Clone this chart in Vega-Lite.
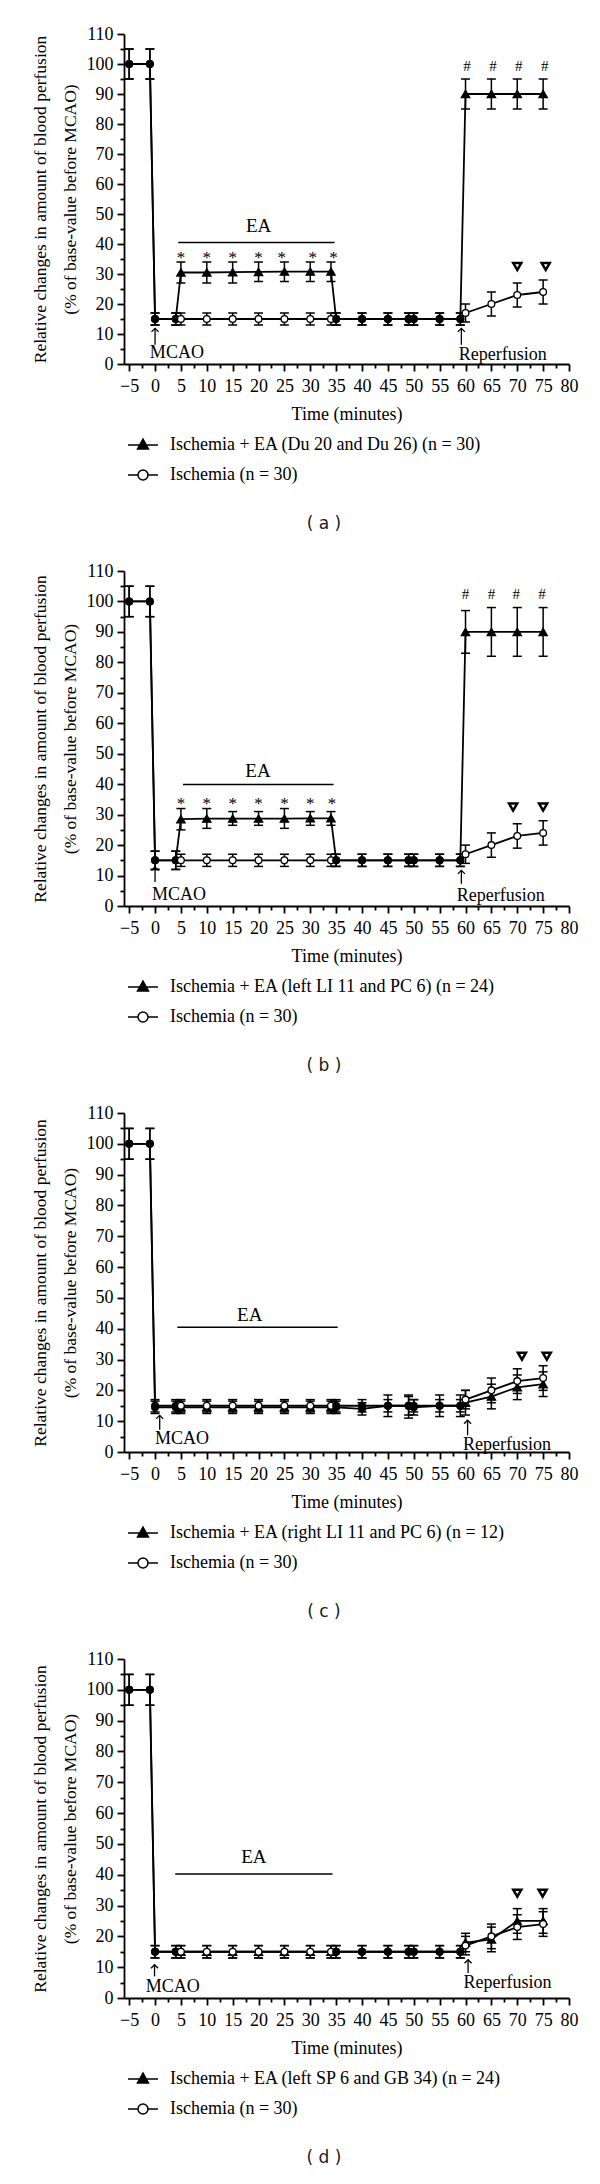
{
"$schema": "https://vega.github.io/schema/vega-lite/v6.json",
"background": "white",
"padding": {"left": 31, "top": 25, "right": 5, "bottom": 5},
"spacing": 30,
"resolve": {"scale": {"shape": "independent"}, "legend": {"shape": "independent"}},
"datasets": {
"pts": [
{"p":"a","s":"E","g":"base","t":-5,"v":100,"lo":95,"hi":105},
{"p":"a","s":"E","g":"base","t":-1,"v":100,"lo":95,"hi":105},
{"p":"a","s":"E","g":"base","t":0,"v":15,"lo":13,"hi":17},
{"p":"a","s":"E","g":"base","t":4,"v":15,"lo":13,"hi":17},
{"p":"a","s":"E","g":"EA","t":5,"v":30.5,"lo":27,"hi":34},
{"p":"a","s":"E","g":"EA","t":10,"v":30.5,"lo":27,"hi":34},
{"p":"a","s":"E","g":"EA","t":15,"v":30.6,"lo":27,"hi":34},
{"p":"a","s":"E","g":"EA","t":20,"v":30.7,"lo":27.5,"hi":34},
{"p":"a","s":"E","g":"EA","t":25,"v":30.8,"lo":27.5,"hi":34},
{"p":"a","s":"E","g":"EA","t":30,"v":30.8,"lo":27.5,"hi":34},
{"p":"a","s":"E","g":"EA","t":34,"v":30.8,"lo":27.5,"hi":34},
{"p":"a","s":"E","g":"base","t":35,"v":15,"lo":13,"hi":17},
{"p":"a","s":"E","g":"base","t":40,"v":15,"lo":13,"hi":17},
{"p":"a","s":"E","g":"base","t":45,"v":15,"lo":13,"hi":17},
{"p":"a","s":"E","g":"base","t":49,"v":15,"lo":13,"hi":17},
{"p":"a","s":"E","g":"base","t":50,"v":15,"lo":13,"hi":17},
{"p":"a","s":"E","g":"base","t":55,"v":15,"lo":13,"hi":17},
{"p":"a","s":"E","g":"base","t":59,"v":15,"lo":13,"hi":17},
{"p":"a","s":"E","g":"EA","t":60,"v":90,"lo":85,"hi":95},
{"p":"a","s":"E","g":"EA","t":65,"v":90,"lo":85,"hi":95},
{"p":"a","s":"E","g":"EA","t":70,"v":90,"lo":85,"hi":95},
{"p":"a","s":"E","g":"EA","t":75,"v":90,"lo":85,"hi":95},
{"p":"a","s":"I","g":"base","t":-5,"v":100,"lo":95,"hi":105},
{"p":"a","s":"I","g":"base","t":-1,"v":100,"lo":95,"hi":105},
{"p":"a","s":"I","g":"base","t":0,"v":15,"lo":13,"hi":17},
{"p":"a","s":"I","g":"base","t":4,"v":15,"lo":13,"hi":17},
{"p":"a","s":"I","g":"Isch","t":5,"v":15,"lo":13,"hi":17},
{"p":"a","s":"I","g":"Isch","t":10,"v":15,"lo":13,"hi":17},
{"p":"a","s":"I","g":"Isch","t":15,"v":15,"lo":13,"hi":17},
{"p":"a","s":"I","g":"Isch","t":20,"v":15,"lo":13,"hi":17},
{"p":"a","s":"I","g":"Isch","t":25,"v":15,"lo":13,"hi":17},
{"p":"a","s":"I","g":"Isch","t":30,"v":15,"lo":13,"hi":17},
{"p":"a","s":"I","g":"Isch","t":34,"v":15,"lo":13,"hi":17},
{"p":"a","s":"I","g":"base","t":35,"v":15,"lo":13,"hi":17},
{"p":"a","s":"I","g":"base","t":40,"v":15,"lo":13,"hi":17},
{"p":"a","s":"I","g":"base","t":45,"v":15,"lo":13,"hi":17},
{"p":"a","s":"I","g":"base","t":49,"v":15,"lo":13,"hi":17},
{"p":"a","s":"I","g":"base","t":50,"v":15,"lo":13,"hi":17},
{"p":"a","s":"I","g":"base","t":55,"v":15,"lo":13,"hi":17},
{"p":"a","s":"I","g":"base","t":59,"v":15,"lo":13,"hi":17},
{"p":"a","s":"I","g":"Isch","t":60,"v":17,"lo":14,"hi":20},
{"p":"a","s":"I","g":"Isch","t":65,"v":20,"lo":16,"hi":24},
{"p":"a","s":"I","g":"Isch","t":70,"v":23,"lo":19,"hi":27},
{"p":"a","s":"I","g":"Isch","t":75,"v":24,"lo":20,"hi":28},

{"p":"b","s":"E","g":"base","t":-5,"v":100,"lo":95,"hi":105},
{"p":"b","s":"E","g":"base","t":-1,"v":100,"lo":95,"hi":105},
{"p":"b","s":"E","g":"base","t":0,"v":15,"lo":12,"hi":18},
{"p":"b","s":"E","g":"base","t":4,"v":15,"lo":12,"hi":18},
{"p":"b","s":"E","g":"EA","t":5,"v":28.5,"lo":25,"hi":32},
{"p":"b","s":"E","g":"EA","t":10,"v":28.7,"lo":25.5,"hi":32},
{"p":"b","s":"E","g":"EA","t":15,"v":28.7,"lo":26.5,"hi":31},
{"p":"b","s":"E","g":"EA","t":20,"v":28.7,"lo":26.5,"hi":31},
{"p":"b","s":"E","g":"EA","t":25,"v":28.7,"lo":25.5,"hi":32},
{"p":"b","s":"E","g":"EA","t":30,"v":28.8,"lo":26.5,"hi":31},
{"p":"b","s":"E","g":"EA","t":34,"v":28.8,"lo":26.5,"hi":31},
{"p":"b","s":"E","g":"base","t":35,"v":15,"lo":13,"hi":17},
{"p":"b","s":"E","g":"base","t":40,"v":15,"lo":13,"hi":17},
{"p":"b","s":"E","g":"base","t":45,"v":15,"lo":13,"hi":17},
{"p":"b","s":"E","g":"base","t":49,"v":15,"lo":13,"hi":17},
{"p":"b","s":"E","g":"base","t":50,"v":15,"lo":13,"hi":17},
{"p":"b","s":"E","g":"base","t":55,"v":15,"lo":13,"hi":17},
{"p":"b","s":"E","g":"base","t":59,"v":15,"lo":13,"hi":17},
{"p":"b","s":"E","g":"EA","t":60,"v":90,"lo":83,"hi":97},
{"p":"b","s":"E","g":"EA","t":65,"v":90,"lo":82,"hi":98},
{"p":"b","s":"E","g":"EA","t":70,"v":90,"lo":82,"hi":98},
{"p":"b","s":"E","g":"EA","t":75,"v":90,"lo":82,"hi":98},
{"p":"b","s":"I","g":"base","t":-5,"v":100,"lo":95,"hi":105},
{"p":"b","s":"I","g":"base","t":-1,"v":100,"lo":95,"hi":105},
{"p":"b","s":"I","g":"base","t":0,"v":15,"lo":12,"hi":18},
{"p":"b","s":"I","g":"base","t":4,"v":15,"lo":12,"hi":18},
{"p":"b","s":"I","g":"Isch","t":5,"v":15,"lo":13,"hi":17},
{"p":"b","s":"I","g":"Isch","t":10,"v":15,"lo":13,"hi":17},
{"p":"b","s":"I","g":"Isch","t":15,"v":15,"lo":13,"hi":17},
{"p":"b","s":"I","g":"Isch","t":20,"v":15,"lo":13,"hi":17},
{"p":"b","s":"I","g":"Isch","t":25,"v":15,"lo":13,"hi":17},
{"p":"b","s":"I","g":"Isch","t":30,"v":15,"lo":13,"hi":17},
{"p":"b","s":"I","g":"Isch","t":34,"v":15,"lo":13,"hi":17},
{"p":"b","s":"I","g":"base","t":35,"v":15,"lo":13,"hi":17},
{"p":"b","s":"I","g":"base","t":40,"v":15,"lo":13,"hi":17},
{"p":"b","s":"I","g":"base","t":45,"v":15,"lo":13,"hi":17},
{"p":"b","s":"I","g":"base","t":49,"v":15,"lo":13,"hi":17},
{"p":"b","s":"I","g":"base","t":50,"v":15,"lo":13,"hi":17},
{"p":"b","s":"I","g":"base","t":55,"v":15,"lo":13,"hi":17},
{"p":"b","s":"I","g":"base","t":59,"v":15,"lo":13,"hi":17},
{"p":"b","s":"I","g":"Isch","t":60,"v":17,"lo":14,"hi":20},
{"p":"b","s":"I","g":"Isch","t":65,"v":20,"lo":16,"hi":24},
{"p":"b","s":"I","g":"Isch","t":70,"v":23,"lo":19,"hi":27},
{"p":"b","s":"I","g":"Isch","t":75,"v":24,"lo":20,"hi":28},

{"p":"c","s":"E","g":"base","t":-5,"v":100,"lo":95,"hi":105},
{"p":"c","s":"E","g":"base","t":-1,"v":100,"lo":95,"hi":105},
{"p":"c","s":"E","g":"base","t":0,"v":14.5,"lo":12.5,"hi":16.5},
{"p":"c","s":"E","g":"base","t":4,"v":14.5,"lo":12.5,"hi":16.5},
{"p":"c","s":"E","g":"EA","t":5,"v":14.5,"lo":12.5,"hi":16.5},
{"p":"c","s":"E","g":"EA","t":10,"v":14.5,"lo":12.5,"hi":16.5},
{"p":"c","s":"E","g":"EA","t":15,"v":14.5,"lo":12.5,"hi":16.5},
{"p":"c","s":"E","g":"EA","t":20,"v":14.5,"lo":12.5,"hi":16.5},
{"p":"c","s":"E","g":"EA","t":25,"v":14.5,"lo":12.5,"hi":16.5},
{"p":"c","s":"E","g":"EA","t":30,"v":14.5,"lo":12.5,"hi":16.5},
{"p":"c","s":"E","g":"EA","t":34,"v":14.5,"lo":12.5,"hi":16.5},
{"p":"c","s":"E","g":"base","t":35,"v":14.5,"lo":12.5,"hi":16.5},
{"p":"c","s":"E","g":"base","t":40,"v":14,"lo":12,"hi":16},
{"p":"c","s":"E","g":"base","t":45,"v":15,"lo":11.5,"hi":18.5},
{"p":"c","s":"E","g":"base","t":49,"v":15,"lo":11,"hi":18.5},
{"p":"c","s":"E","g":"base","t":50,"v":14.5,"lo":12,"hi":17},
{"p":"c","s":"E","g":"base","t":55,"v":15,"lo":11.5,"hi":18.5},
{"p":"c","s":"E","g":"base","t":59,"v":15,"lo":11.5,"hi":18.5},
{"p":"c","s":"E","g":"EA","t":60,"v":16,"lo":12,"hi":20},
{"p":"c","s":"E","g":"EA","t":65,"v":18,"lo":14,"hi":22},
{"p":"c","s":"E","g":"EA","t":70,"v":21,"lo":17,"hi":25},
{"p":"c","s":"E","g":"EA","t":75,"v":22,"lo":18,"hi":26},
{"p":"c","s":"I","g":"base","t":-5,"v":100,"lo":95,"hi":105},
{"p":"c","s":"I","g":"base","t":-1,"v":100,"lo":95,"hi":105},
{"p":"c","s":"I","g":"base","t":0,"v":15,"lo":13,"hi":17},
{"p":"c","s":"I","g":"base","t":4,"v":15,"lo":13,"hi":17},
{"p":"c","s":"I","g":"Isch","t":5,"v":15,"lo":13,"hi":17},
{"p":"c","s":"I","g":"Isch","t":10,"v":15,"lo":13,"hi":17},
{"p":"c","s":"I","g":"Isch","t":15,"v":15,"lo":13,"hi":17},
{"p":"c","s":"I","g":"Isch","t":20,"v":15,"lo":13,"hi":17},
{"p":"c","s":"I","g":"Isch","t":25,"v":15,"lo":13,"hi":17},
{"p":"c","s":"I","g":"Isch","t":30,"v":15,"lo":13,"hi":17},
{"p":"c","s":"I","g":"Isch","t":34,"v":15,"lo":13,"hi":17},
{"p":"c","s":"I","g":"base","t":35,"v":15,"lo":13,"hi":17},
{"p":"c","s":"I","g":"base","t":40,"v":15,"lo":13,"hi":17},
{"p":"c","s":"I","g":"base","t":45,"v":15,"lo":13,"hi":17},
{"p":"c","s":"I","g":"base","t":49,"v":15,"lo":12,"hi":18},
{"p":"c","s":"I","g":"base","t":50,"v":15,"lo":13,"hi":17},
{"p":"c","s":"I","g":"base","t":55,"v":15,"lo":13,"hi":17},
{"p":"c","s":"I","g":"base","t":59,"v":15,"lo":13,"hi":17},
{"p":"c","s":"I","g":"Isch","t":60,"v":17,"lo":14,"hi":20},
{"p":"c","s":"I","g":"Isch","t":65,"v":20,"lo":16,"hi":24},
{"p":"c","s":"I","g":"Isch","t":70,"v":23,"lo":19,"hi":27},
{"p":"c","s":"I","g":"Isch","t":75,"v":24,"lo":20,"hi":28},

{"p":"d","s":"E","g":"base","t":-5,"v":100,"lo":95,"hi":105},
{"p":"d","s":"E","g":"base","t":-1,"v":100,"lo":95,"hi":105},
{"p":"d","s":"E","g":"base","t":0,"v":15,"lo":13,"hi":17},
{"p":"d","s":"E","g":"base","t":4,"v":15,"lo":13,"hi":17},
{"p":"d","s":"E","g":"EA","t":5,"v":15,"lo":13,"hi":17},
{"p":"d","s":"E","g":"EA","t":10,"v":15,"lo":13,"hi":17},
{"p":"d","s":"E","g":"EA","t":15,"v":15,"lo":13,"hi":17},
{"p":"d","s":"E","g":"EA","t":20,"v":15,"lo":13,"hi":17},
{"p":"d","s":"E","g":"EA","t":25,"v":15,"lo":13,"hi":17},
{"p":"d","s":"E","g":"EA","t":30,"v":15,"lo":13,"hi":17},
{"p":"d","s":"E","g":"EA","t":34,"v":15,"lo":13,"hi":17},
{"p":"d","s":"E","g":"base","t":35,"v":15,"lo":13,"hi":17},
{"p":"d","s":"E","g":"base","t":40,"v":15,"lo":13,"hi":17},
{"p":"d","s":"E","g":"base","t":45,"v":15,"lo":13,"hi":17},
{"p":"d","s":"E","g":"base","t":49,"v":15,"lo":13,"hi":17},
{"p":"d","s":"E","g":"base","t":50,"v":15,"lo":13,"hi":17},
{"p":"d","s":"E","g":"base","t":55,"v":15,"lo":13,"hi":17},
{"p":"d","s":"E","g":"base","t":59,"v":15,"lo":13,"hi":17},
{"p":"d","s":"E","g":"EA","t":60,"v":18,"lo":15,"hi":21},
{"p":"d","s":"E","g":"EA","t":65,"v":19,"lo":15,"hi":23},
{"p":"d","s":"E","g":"EA","t":70,"v":25,"lo":21,"hi":29},
{"p":"d","s":"E","g":"EA","t":75,"v":25,"lo":21,"hi":29},
{"p":"d","s":"I","g":"base","t":-5,"v":100,"lo":95,"hi":105},
{"p":"d","s":"I","g":"base","t":-1,"v":100,"lo":95,"hi":105},
{"p":"d","s":"I","g":"base","t":0,"v":15,"lo":13,"hi":17},
{"p":"d","s":"I","g":"base","t":4,"v":15,"lo":13,"hi":17},
{"p":"d","s":"I","g":"Isch","t":5,"v":15,"lo":13,"hi":17},
{"p":"d","s":"I","g":"Isch","t":10,"v":15,"lo":13,"hi":17},
{"p":"d","s":"I","g":"Isch","t":15,"v":15,"lo":13,"hi":17},
{"p":"d","s":"I","g":"Isch","t":20,"v":15,"lo":13,"hi":17},
{"p":"d","s":"I","g":"Isch","t":25,"v":15,"lo":13,"hi":17},
{"p":"d","s":"I","g":"Isch","t":30,"v":15,"lo":13,"hi":17},
{"p":"d","s":"I","g":"Isch","t":34,"v":15,"lo":13,"hi":17},
{"p":"d","s":"I","g":"base","t":35,"v":15,"lo":13,"hi":17},
{"p":"d","s":"I","g":"base","t":40,"v":15,"lo":13,"hi":17},
{"p":"d","s":"I","g":"base","t":45,"v":15,"lo":13,"hi":17},
{"p":"d","s":"I","g":"base","t":49,"v":15,"lo":13,"hi":17},
{"p":"d","s":"I","g":"base","t":50,"v":15,"lo":13,"hi":17},
{"p":"d","s":"I","g":"base","t":55,"v":15,"lo":13,"hi":17},
{"p":"d","s":"I","g":"base","t":59,"v":15,"lo":13,"hi":17},
{"p":"d","s":"I","g":"Isch","t":60,"v":17,"lo":14,"hi":20},
{"p":"d","s":"I","g":"Isch","t":65,"v":20,"lo":16,"hi":24},
{"p":"d","s":"I","g":"Isch","t":70,"v":23,"lo":19,"hi":27},
{"p":"d","s":"I","g":"Isch","t":75,"v":24,"lo":20,"hi":28}
],
"ann": [
{"p":"a","k":"bar","t":4.5,"t2":34.7,"v":40.5},
{"p":"a","k":"ea","t":20,"v":46,"txt":"EA"},
{"p":"a","k":"star","t":5,"v":35.4,"txt":"*"},
{"p":"a","k":"star","t":10,"v":35.4,"txt":"*"},
{"p":"a","k":"star","t":15,"v":35.4,"txt":"*"},
{"p":"a","k":"star","t":20,"v":35.4,"txt":"*"},
{"p":"a","k":"star","t":24.5,"v":35.4,"txt":"*"},
{"p":"a","k":"star","t":30.5,"v":35.4,"txt":"*"},
{"p":"a","k":"star","t":34.5,"v":35.4,"txt":"*"},
{"p":"a","k":"hash","t":60.3,"v":99.5,"txt":"#"},
{"p":"a","k":"hash","t":65.3,"v":99.5,"txt":"#"},
{"p":"a","k":"hash","t":70.3,"v":99.5,"txt":"#"},
{"p":"a","k":"hash","t":75.3,"v":99.5,"txt":"#"},
{"p":"a","k":"inv","t":70,"v":32.5},
{"p":"a","k":"inv","t":75.5,"v":32.5},
{"p":"a","k":"arrow","t":0,"v":6.4,"v2":11.9},
{"p":"a","k":"arrow","t":59.2,"v":6.4,"v2":11.9},
{"p":"a","k":"mcao","t":-1,"v":3.6,"txt":"MCAO"},
{"p":"a","k":"rep","t":58.7,"v":3,"txt":"Reperfusion"},

{"p":"b","k":"bar","t":5.4,"t2":34.5,"v":39.9},
{"p":"b","k":"ea","t":19.9,"v":44.2,"txt":"EA"},
{"p":"b","k":"star","t":5,"v":33.6,"txt":"*"},
{"p":"b","k":"star","t":10,"v":33.6,"txt":"*"},
{"p":"b","k":"star","t":15,"v":33.6,"txt":"*"},
{"p":"b","k":"star","t":20,"v":33.6,"txt":"*"},
{"p":"b","k":"star","t":25,"v":33.6,"txt":"*"},
{"p":"b","k":"star","t":30,"v":33.6,"txt":"*"},
{"p":"b","k":"star","t":34.2,"v":33.6,"txt":"*"},
{"p":"b","k":"hash","t":60,"v":102.3,"txt":"#"},
{"p":"b","k":"hash","t":65,"v":102.3,"txt":"#"},
{"p":"b","k":"hash","t":69.8,"v":102.3,"txt":"#"},
{"p":"b","k":"hash","t":74.8,"v":102.3,"txt":"#"},
{"p":"b","k":"inv","t":69.2,"v":32.5},
{"p":"b","k":"inv","t":75,"v":32.5},
{"p":"b","k":"arrow","t":0,"v":7.9,"v2":12.8},
{"p":"b","k":"arrow","t":59.2,"v":7.3,"v2":11.7},
{"p":"b","k":"mcao","t":-0.6,"v":3.5,"txt":"MCAO"},
{"p":"b","k":"rep","t":58.3,"v":3.2,"txt":"Reperfusion"},

{"p":"c","k":"bar","t":4.3,"t2":35.3,"v":40.5},
{"p":"c","k":"ea","t":18.3,"v":44.3,"txt":"EA"},
{"p":"c","k":"inv","t":70.9,"v":31.1},
{"p":"c","k":"inv","t":75.7,"v":31.1},
{"p":"c","k":"arrow","t":0.9,"v":7.2,"v2":11.9},
{"p":"c","k":"arrow","t":60.4,"v":5.4,"v2":10.3},
{"p":"c","k":"mcao","t":0,"v":4.3,"txt":"MCAO"},
{"p":"c","k":"rep","t":59.5,"v":2.4,"txt":"Reperfusion"},

{"p":"d","k":"bar","t":3.9,"t2":34.3,"v":40.2},
{"p":"d","k":"ea","t":19.1,"v":45.6,"txt":"EA"},
{"p":"d","k":"inv","t":70,"v":34},
{"p":"d","k":"inv","t":74.9,"v":34},
{"p":"d","k":"arrow","t":-0.1,"v":7.0,"v2":10.8},
{"p":"d","k":"arrow","t":60.5,"v":8.1,"v2":12.4},
{"p":"d","k":"mcao","t":-1.8,"v":3.5,"txt":"MCAO"},
{"p":"d","k":"rep","t":59.6,"v":4.9,"txt":"Reperfusion"}
]
},
"config": {
"view": {"stroke": null},
"font": "Liberation Serif",
"axis": {"labelFont": "Liberation Serif", "labelFontSize": 18, "labelColor": "black", "titleFont": "Liberation Serif", "titleFontWeight": "normal", "titleColor": "black", "domainColor": "black", "domainWidth": 1.8, "tickColor": "black", "tickWidth": 1.8, "grid": false},
"axisX": {"titleFontSize": 18},
"axisY": {"titleFontSize": 17.5},
"legend": {"title": null, "orient": "bottom", "direction": "vertical", "symbolSize": 100, "labelOffset": 28, "rowPadding": 12, "offset": 13, "labelLimit": 600, "labelFont": "Liberation Serif", "labelFontSize": 18, "labelColor": "black"},
"title": {"font": "DejaVu Sans", "fontSize": 17, "fontWeight": "normal", "color": "#1a1a1a", "orient": "bottom", "offset": 32, "dx": -22.5}
},
"vconcat": [
{
"width": 445, "height": 330,
"title": {"text": "( a )"},
"resolve": {"axis": {"x": "independent", "y": "independent"}, "scale": {"shape": "independent"}},
"layer": [
{"data": {"name": "ann"}, "transform": [{"filter": "datum.p==='a' && datum.k==='bar'"}],
 "mark": {"type": "rule", "strokeWidth": 1.5, "color": "black"},
 "encoding": {
  "x": {"field": "t", "type": "quantitative", "scale": {"domain": [-6, 80], "nice": false, "zero": false}, "axis": {"orient": "bottom", "values": [-2.5,2.5,7.5,12.5,17.5,22.5,27.5,32.5,37.5,42.5,47.5,52.5,57.5,62.5,67.5,72.5,77.5], "labels": false, "domain": false, "tickSize": 4, "title": null}},
  "x2": {"field": "t2"},
  "y": {"field": "v", "type": "quantitative", "scale": {"domain": [0, 110], "nice": false, "zero": false}, "axis": {"orient": "left", "values": [5,15,25,35,45,55,65,75,85,95,105], "labels": false, "domain": false, "tickSize": 4, "title": null}}}},
{"data": {"name": "pts"}, "transform": [{"filter": "datum.p==='a'"}],
 "mark": {"type": "line", "color": "black", "strokeWidth": 1.8},
 "encoding": {
  "x": {"field": "t", "type": "quantitative", "axis": {"orient": "bottom", "values": [-5,0,5,10,15,20,25,30,35,40,45,50,55,60,65,70,75,80], "tickSize": 7, "labelPadding": 6, "labelFlush": false, "labelOverlap": false, "title": "Time (minutes)", "titlePadding": 10}},
  "y": {"field": "v", "type": "quantitative", "axis": {"orient": "left", "values": [0,10,20,30,40,50,60,70,80,90,100,110], "tickSize": 7, "labelPadding": 4, "title": ["Relative changes in amount of blood perfusion", "(% of  base-value before MCAO)"], "titlePadding": 7, "titleLineHeight": 30}},
  "detail": {"field": "s"}}},
{"data": {"name": "pts"}, "transform": [{"filter": "datum.p==='a'"}],
 "mark": {"type": "rule", "color": "black", "strokeWidth": 1.5},
 "encoding": {"x": {"field": "t", "type": "quantitative", "axis": null}, "y": {"field": "lo", "type": "quantitative", "axis": null}, "y2": {"field": "hi"}}},
{"data": {"name": "pts"}, "transform": [{"filter": "datum.p==='a'"}],
 "mark": {"type": "tick", "orient": "horizontal", "size": 9, "thickness": 1.5, "color": "black", "opacity": 1},
 "encoding": {"x": {"field": "t", "type": "quantitative", "axis": null}, "y": {"field": "lo", "type": "quantitative", "axis": null}}},
{"data": {"name": "pts"}, "transform": [{"filter": "datum.p==='a'"}],
 "mark": {"type": "tick", "orient": "horizontal", "size": 9, "thickness": 1.5, "color": "black", "opacity": 1},
 "encoding": {"x": {"field": "t", "type": "quantitative", "axis": null}, "y": {"field": "hi", "type": "quantitative", "axis": null}}},
{"data": {"name": "pts"}, "transform": [{"filter": "datum.p==='a'"}],
 "mark": {"type": "point", "filled": true, "opacity": 1, "stroke": "black", "strokeWidth": 1.3},
 "encoding": {
  "x": {"field": "t", "type": "quantitative", "axis": null},
  "y": {"field": "v", "type": "quantitative", "axis": null},
  "shape": {"field": "g", "type": "nominal", "scale": {"domain": ["EA", "Isch", "base"], "range": ["triangle-up", "circle", "circle"]}, "legend": null},
  "fill": {"condition": {"test": "datum.g === 'Isch'", "value": "white"}, "value": "black"},
  "size": {"condition": {"test": "datum.g === 'EA'", "value": 70}, "value": 45}}},
{"data": {"name": "pts"}, "transform": [{"filter": "false"}],
 "mark": {"type": "point", "filled": true, "color": "black", "opacity": 1, "stroke": "black", "strokeWidth": 1.5, "size": 100},
 "encoding": {
  "x": {"field": "t", "type": "quantitative", "axis": null},
  "y": {"field": "v", "type": "quantitative", "axis": null},
  "shape": {"field": "g", "type": "nominal", "scale": {"domain": ["EA", "Isch"], "range": ["M-1,0H5M2,-1.2L3.1,0.8L0.9,0.8Z", "M-1,0H1M3,0H5M1,0A1,1 0 1,0 3,0A1,1 0 1,0 1,0"]},
   "legend": {"labelExpr": "datum.value === 'EA' ? 'Ischemia + EA (Du 20 and Du 26) (n = 30)' : 'Ischemia (n = 30)'",
    "encoding": {"symbols": {"fill": {"value": {"expr": "datum.value === 'EA' ? 'black' : 'white'"}}, "stroke": {"value": "black"}, "strokeWidth": {"value": 1.5}, "opacity": {"value": 1}}}}}}},
{"data": {"name": "ann"}, "transform": [{"filter": "datum.p==='a' && datum.k==='arrow'"}],
 "mark": {"type": "rule", "color": "black", "strokeWidth": 1.3},
 "encoding": {"x": {"field": "t", "type": "quantitative", "axis": null}, "y": {"field": "v", "type": "quantitative", "axis": null}, "y2": {"field": "v2"}}},
{"data": {"name": "ann"}, "transform": [{"filter": "datum.p==='a' && datum.k==='arrow'"}],
 "mark": {"type": "point", "shape": "M-1,1L0,0L1,1", "filled": false, "stroke": "black", "strokeWidth": 1.3, "size": 50, "opacity": 1},
 "encoding": {"x": {"field": "t", "type": "quantitative", "axis": null}, "y": {"field": "v2", "type": "quantitative", "axis": null}}},
{"data": {"name": "ann"}, "transform": [{"filter": "datum.p==='a' && (datum.k==='star' || datum.k==='hash' || datum.k==='ea')"}],
 "mark": {"type": "text", "font": "Liberation Serif", "color": "black", "align": "center", "baseline": "middle"},
 "encoding": {"x": {"field": "t", "type": "quantitative", "axis": null}, "y": {"field": "v", "type": "quantitative", "axis": null}, "text": {"field": "txt"},
  "size": {"condition": [{"test": "datum.k==='hash'", "value": 15}, {"test": "datum.k==='ea'", "value": 19}], "value": 17}}},
{"data": {"name": "ann"}, "transform": [{"filter": "datum.p==='a' && (datum.k==='mcao' || datum.k==='rep')"}],
 "mark": {"type": "text", "font": "Liberation Serif", "fontSize": 18, "color": "black", "align": "left", "baseline": "middle"},
 "encoding": {"x": {"field": "t", "type": "quantitative", "axis": null}, "y": {"field": "v", "type": "quantitative", "axis": null}, "text": {"field": "txt"}}},
{"data": {"name": "ann"}, "transform": [{"filter": "datum.p==='a' && datum.k==='inv'"}],
 "mark": {"type": "point", "shape": "triangle-down", "filled": false, "stroke": "black", "strokeWidth": 2.5, "size": 65, "opacity": 1},
 "encoding": {"x": {"field": "t", "type": "quantitative", "axis": null}, "y": {"field": "v", "type": "quantitative", "axis": null}}}
]
},
{
"width": 445, "height": 335,
"title": {"text": "( b )"},
"resolve": {"axis": {"x": "independent", "y": "independent"}, "scale": {"shape": "independent"}},
"layer": [
{"data": {"name": "ann"}, "transform": [{"filter": "datum.p==='b' && datum.k==='bar'"}],
 "mark": {"type": "rule", "strokeWidth": 1.5, "color": "black"},
 "encoding": {
  "x": {"field": "t", "type": "quantitative", "scale": {"domain": [-6, 80], "nice": false, "zero": false}, "axis": {"orient": "bottom", "values": [-2.5,2.5,7.5,12.5,17.5,22.5,27.5,32.5,37.5,42.5,47.5,52.5,57.5,62.5,67.5,72.5,77.5], "labels": false, "domain": false, "tickSize": 4, "title": null}},
  "x2": {"field": "t2"},
  "y": {"field": "v", "type": "quantitative", "scale": {"domain": [0, 110], "nice": false, "zero": false}, "axis": {"orient": "left", "values": [5,15,25,35,45,55,65,75,85,95,105], "labels": false, "domain": false, "tickSize": 4, "title": null}}}},
{"data": {"name": "pts"}, "transform": [{"filter": "datum.p==='b'"}],
 "mark": {"type": "line", "color": "black", "strokeWidth": 1.8},
 "encoding": {
  "x": {"field": "t", "type": "quantitative", "axis": {"orient": "bottom", "values": [-5,0,5,10,15,20,25,30,35,40,45,50,55,60,65,70,75,80], "tickSize": 7, "labelPadding": 6, "labelFlush": false, "labelOverlap": false, "title": "Time (minutes)", "titlePadding": 10}},
  "y": {"field": "v", "type": "quantitative", "axis": {"orient": "left", "values": [0,10,20,30,40,50,60,70,80,90,100,110], "tickSize": 7, "labelPadding": 4, "title": ["Relative changes in amount of blood perfusion", "(% of  base-value before MCAO)"], "titlePadding": 7, "titleLineHeight": 30}},
  "detail": {"field": "s"}}},
{"data": {"name": "pts"}, "transform": [{"filter": "datum.p==='b'"}],
 "mark": {"type": "rule", "color": "black", "strokeWidth": 1.5},
 "encoding": {"x": {"field": "t", "type": "quantitative", "axis": null}, "y": {"field": "lo", "type": "quantitative", "axis": null}, "y2": {"field": "hi"}}},
{"data": {"name": "pts"}, "transform": [{"filter": "datum.p==='b'"}],
 "mark": {"type": "tick", "orient": "horizontal", "size": 9, "thickness": 1.5, "color": "black", "opacity": 1},
 "encoding": {"x": {"field": "t", "type": "quantitative", "axis": null}, "y": {"field": "lo", "type": "quantitative", "axis": null}}},
{"data": {"name": "pts"}, "transform": [{"filter": "datum.p==='b'"}],
 "mark": {"type": "tick", "orient": "horizontal", "size": 9, "thickness": 1.5, "color": "black", "opacity": 1},
 "encoding": {"x": {"field": "t", "type": "quantitative", "axis": null}, "y": {"field": "hi", "type": "quantitative", "axis": null}}},
{"data": {"name": "pts"}, "transform": [{"filter": "datum.p==='b'"}],
 "mark": {"type": "point", "filled": true, "opacity": 1, "stroke": "black", "strokeWidth": 1.3},
 "encoding": {
  "x": {"field": "t", "type": "quantitative", "axis": null},
  "y": {"field": "v", "type": "quantitative", "axis": null},
  "shape": {"field": "g", "type": "nominal", "scale": {"domain": ["EA", "Isch", "base"], "range": ["triangle-up", "circle", "circle"]}, "legend": null},
  "fill": {"condition": {"test": "datum.g === 'Isch'", "value": "white"}, "value": "black"},
  "size": {"condition": {"test": "datum.g === 'EA'", "value": 70}, "value": 45}}},
{"data": {"name": "pts"}, "transform": [{"filter": "false"}],
 "mark": {"type": "point", "filled": true, "color": "black", "opacity": 1, "stroke": "black", "strokeWidth": 1.5, "size": 100},
 "encoding": {
  "x": {"field": "t", "type": "quantitative", "axis": null},
  "y": {"field": "v", "type": "quantitative", "axis": null},
  "shape": {"field": "g", "type": "nominal", "scale": {"domain": ["EA", "Isch"], "range": ["M-1,0H5M2,-1.2L3.1,0.8L0.9,0.8Z", "M-1,0H1M3,0H5M1,0A1,1 0 1,0 3,0A1,1 0 1,0 1,0"]},
   "legend": {"labelExpr": "datum.value === 'EA' ? 'Ischemia + EA (left LI 11 and PC 6) (n = 24)' : 'Ischemia (n = 30)'",
    "encoding": {"symbols": {"fill": {"value": {"expr": "datum.value === 'EA' ? 'black' : 'white'"}}, "stroke": {"value": "black"}, "strokeWidth": {"value": 1.5}, "opacity": {"value": 1}}}}}}},
{"data": {"name": "ann"}, "transform": [{"filter": "datum.p==='b' && datum.k==='arrow'"}],
 "mark": {"type": "rule", "color": "black", "strokeWidth": 1.3},
 "encoding": {"x": {"field": "t", "type": "quantitative", "axis": null}, "y": {"field": "v", "type": "quantitative", "axis": null}, "y2": {"field": "v2"}}},
{"data": {"name": "ann"}, "transform": [{"filter": "datum.p==='b' && datum.k==='arrow'"}],
 "mark": {"type": "point", "shape": "M-1,1L0,0L1,1", "filled": false, "stroke": "black", "strokeWidth": 1.3, "size": 50, "opacity": 1},
 "encoding": {"x": {"field": "t", "type": "quantitative", "axis": null}, "y": {"field": "v2", "type": "quantitative", "axis": null}}},
{"data": {"name": "ann"}, "transform": [{"filter": "datum.p==='b' && (datum.k==='star' || datum.k==='hash' || datum.k==='ea')"}],
 "mark": {"type": "text", "font": "Liberation Serif", "color": "black", "align": "center", "baseline": "middle"},
 "encoding": {"x": {"field": "t", "type": "quantitative", "axis": null}, "y": {"field": "v", "type": "quantitative", "axis": null}, "text": {"field": "txt"},
  "size": {"condition": [{"test": "datum.k==='hash'", "value": 15}, {"test": "datum.k==='ea'", "value": 19}], "value": 17}}},
{"data": {"name": "ann"}, "transform": [{"filter": "datum.p==='b' && (datum.k==='mcao' || datum.k==='rep')"}],
 "mark": {"type": "text", "font": "Liberation Serif", "fontSize": 18, "color": "black", "align": "left", "baseline": "middle"},
 "encoding": {"x": {"field": "t", "type": "quantitative", "axis": null}, "y": {"field": "v", "type": "quantitative", "axis": null}, "text": {"field": "txt"}}},
{"data": {"name": "ann"}, "transform": [{"filter": "datum.p==='b' && datum.k==='inv'"}],
 "mark": {"type": "point", "shape": "triangle-down", "filled": false, "stroke": "black", "strokeWidth": 2.5, "size": 65, "opacity": 1},
 "encoding": {"x": {"field": "t", "type": "quantitative", "axis": null}, "y": {"field": "v", "type": "quantitative", "axis": null}}}
]
},
{
"width": 445, "height": 339,
"title": {"text": "( c )"},
"resolve": {"axis": {"x": "independent", "y": "independent"}, "scale": {"shape": "independent"}},
"layer": [
{"data": {"name": "ann"}, "transform": [{"filter": "datum.p==='c' && datum.k==='bar'"}],
 "mark": {"type": "rule", "strokeWidth": 1.5, "color": "black"},
 "encoding": {
  "x": {"field": "t", "type": "quantitative", "scale": {"domain": [-6, 80], "nice": false, "zero": false}, "axis": {"orient": "bottom", "values": [-2.5,2.5,7.5,12.5,17.5,22.5,27.5,32.5,37.5,42.5,47.5,52.5,57.5,62.5,67.5,72.5,77.5], "labels": false, "domain": false, "tickSize": 4, "title": null}},
  "x2": {"field": "t2"},
  "y": {"field": "v", "type": "quantitative", "scale": {"domain": [0, 110], "nice": false, "zero": false}, "axis": {"orient": "left", "values": [5,15,25,35,45,55,65,75,85,95,105], "labels": false, "domain": false, "tickSize": 4, "title": null}}}},
{"data": {"name": "pts"}, "transform": [{"filter": "datum.p==='c'"}],
 "mark": {"type": "line", "color": "black", "strokeWidth": 1.8},
 "encoding": {
  "x": {"field": "t", "type": "quantitative", "axis": {"orient": "bottom", "values": [-5,0,5,10,15,20,25,30,35,40,45,50,55,60,65,70,75,80], "tickSize": 7, "labelPadding": 6, "labelFlush": false, "labelOverlap": false, "title": "Time (minutes)", "titlePadding": 10}},
  "y": {"field": "v", "type": "quantitative", "axis": {"orient": "left", "values": [0,10,20,30,40,50,60,70,80,90,100,110], "tickSize": 7, "labelPadding": 4, "title": ["Relative changes in amount of blood perfusion", "(% of  base-value before MCAO)"], "titlePadding": 7, "titleLineHeight": 30}},
  "detail": {"field": "s"}}},
{"data": {"name": "pts"}, "transform": [{"filter": "datum.p==='c'"}],
 "mark": {"type": "rule", "color": "black", "strokeWidth": 1.5},
 "encoding": {"x": {"field": "t", "type": "quantitative", "axis": null}, "y": {"field": "lo", "type": "quantitative", "axis": null}, "y2": {"field": "hi"}}},
{"data": {"name": "pts"}, "transform": [{"filter": "datum.p==='c'"}],
 "mark": {"type": "tick", "orient": "horizontal", "size": 9, "thickness": 1.5, "color": "black", "opacity": 1},
 "encoding": {"x": {"field": "t", "type": "quantitative", "axis": null}, "y": {"field": "lo", "type": "quantitative", "axis": null}}},
{"data": {"name": "pts"}, "transform": [{"filter": "datum.p==='c'"}],
 "mark": {"type": "tick", "orient": "horizontal", "size": 9, "thickness": 1.5, "color": "black", "opacity": 1},
 "encoding": {"x": {"field": "t", "type": "quantitative", "axis": null}, "y": {"field": "hi", "type": "quantitative", "axis": null}}},
{"data": {"name": "pts"}, "transform": [{"filter": "datum.p==='c'"}],
 "mark": {"type": "point", "filled": true, "opacity": 1, "stroke": "black", "strokeWidth": 1.3},
 "encoding": {
  "x": {"field": "t", "type": "quantitative", "axis": null},
  "y": {"field": "v", "type": "quantitative", "axis": null},
  "shape": {"field": "g", "type": "nominal", "scale": {"domain": ["EA", "Isch", "base"], "range": ["triangle-up", "circle", "circle"]}, "legend": null},
  "fill": {"condition": {"test": "datum.g === 'Isch'", "value": "white"}, "value": "black"},
  "size": {"condition": {"test": "datum.g === 'EA'", "value": 70}, "value": 45}}},
{"data": {"name": "pts"}, "transform": [{"filter": "false"}],
 "mark": {"type": "point", "filled": true, "color": "black", "opacity": 1, "stroke": "black", "strokeWidth": 1.5, "size": 100},
 "encoding": {
  "x": {"field": "t", "type": "quantitative", "axis": null},
  "y": {"field": "v", "type": "quantitative", "axis": null},
  "shape": {"field": "g", "type": "nominal", "scale": {"domain": ["EA", "Isch"], "range": ["M-1,0H5M2,-1.2L3.1,0.8L0.9,0.8Z", "M-1,0H1M3,0H5M1,0A1,1 0 1,0 3,0A1,1 0 1,0 1,0"]},
   "legend": {"labelExpr": "datum.value === 'EA' ? 'Ischemia + EA (right LI 11 and PC 6) (n = 12)' : 'Ischemia (n = 30)'",
    "encoding": {"symbols": {"fill": {"value": {"expr": "datum.value === 'EA' ? 'black' : 'white'"}}, "stroke": {"value": "black"}, "strokeWidth": {"value": 1.5}, "opacity": {"value": 1}}}}}}},
{"data": {"name": "ann"}, "transform": [{"filter": "datum.p==='c' && datum.k==='arrow'"}],
 "mark": {"type": "rule", "color": "black", "strokeWidth": 1.3},
 "encoding": {"x": {"field": "t", "type": "quantitative", "axis": null}, "y": {"field": "v", "type": "quantitative", "axis": null}, "y2": {"field": "v2"}}},
{"data": {"name": "ann"}, "transform": [{"filter": "datum.p==='c' && datum.k==='arrow'"}],
 "mark": {"type": "point", "shape": "M-1,1L0,0L1,1", "filled": false, "stroke": "black", "strokeWidth": 1.3, "size": 50, "opacity": 1},
 "encoding": {"x": {"field": "t", "type": "quantitative", "axis": null}, "y": {"field": "v2", "type": "quantitative", "axis": null}}},
{"data": {"name": "ann"}, "transform": [{"filter": "datum.p==='c' && (datum.k==='star' || datum.k==='hash' || datum.k==='ea')"}],
 "mark": {"type": "text", "font": "Liberation Serif", "color": "black", "align": "center", "baseline": "middle"},
 "encoding": {"x": {"field": "t", "type": "quantitative", "axis": null}, "y": {"field": "v", "type": "quantitative", "axis": null}, "text": {"field": "txt"},
  "size": {"condition": [{"test": "datum.k==='hash'", "value": 15}, {"test": "datum.k==='ea'", "value": 19}], "value": 17}}},
{"data": {"name": "ann"}, "transform": [{"filter": "datum.p==='c' && (datum.k==='mcao' || datum.k==='rep')"}],
 "mark": {"type": "text", "font": "Liberation Serif", "fontSize": 18, "color": "black", "align": "left", "baseline": "middle"},
 "encoding": {"x": {"field": "t", "type": "quantitative", "axis": null}, "y": {"field": "v", "type": "quantitative", "axis": null}, "text": {"field": "txt"}}},
{"data": {"name": "ann"}, "transform": [{"filter": "datum.p==='c' && datum.k==='inv'"}],
 "mark": {"type": "point", "shape": "triangle-down", "filled": false, "stroke": "black", "strokeWidth": 2.5, "size": 65, "opacity": 1},
 "encoding": {"x": {"field": "t", "type": "quantitative", "axis": null}, "y": {"field": "v", "type": "quantitative", "axis": null}}}
]
},
{
"width": 445, "height": 339,
"title": {"text": "( d )"},
"resolve": {"axis": {"x": "independent", "y": "independent"}, "scale": {"shape": "independent"}},
"layer": [
{"data": {"name": "ann"}, "transform": [{"filter": "datum.p==='d' && datum.k==='bar'"}],
 "mark": {"type": "rule", "strokeWidth": 1.5, "color": "black"},
 "encoding": {
  "x": {"field": "t", "type": "quantitative", "scale": {"domain": [-6, 80], "nice": false, "zero": false}, "axis": {"orient": "bottom", "values": [-2.5,2.5,7.5,12.5,17.5,22.5,27.5,32.5,37.5,42.5,47.5,52.5,57.5,62.5,67.5,72.5,77.5], "labels": false, "domain": false, "tickSize": 4, "title": null}},
  "x2": {"field": "t2"},
  "y": {"field": "v", "type": "quantitative", "scale": {"domain": [0, 110], "nice": false, "zero": false}, "axis": {"orient": "left", "values": [5,15,25,35,45,55,65,75,85,95,105], "labels": false, "domain": false, "tickSize": 4, "title": null}}}},
{"data": {"name": "pts"}, "transform": [{"filter": "datum.p==='d'"}],
 "mark": {"type": "line", "color": "black", "strokeWidth": 1.8},
 "encoding": {
  "x": {"field": "t", "type": "quantitative", "axis": {"orient": "bottom", "values": [-5,0,5,10,15,20,25,30,35,40,45,50,55,60,65,70,75,80], "tickSize": 7, "labelPadding": 6, "labelFlush": false, "labelOverlap": false, "title": "Time (minutes)", "titlePadding": 10}},
  "y": {"field": "v", "type": "quantitative", "axis": {"orient": "left", "values": [0,10,20,30,40,50,60,70,80,90,100,110], "tickSize": 7, "labelPadding": 4, "title": ["Relative changes in amount of blood perfusion", "(% of  base-value before MCAO)"], "titlePadding": 7, "titleLineHeight": 30}},
  "detail": {"field": "s"}}},
{"data": {"name": "pts"}, "transform": [{"filter": "datum.p==='d'"}],
 "mark": {"type": "rule", "color": "black", "strokeWidth": 1.5},
 "encoding": {"x": {"field": "t", "type": "quantitative", "axis": null}, "y": {"field": "lo", "type": "quantitative", "axis": null}, "y2": {"field": "hi"}}},
{"data": {"name": "pts"}, "transform": [{"filter": "datum.p==='d'"}],
 "mark": {"type": "tick", "orient": "horizontal", "size": 9, "thickness": 1.5, "color": "black", "opacity": 1},
 "encoding": {"x": {"field": "t", "type": "quantitative", "axis": null}, "y": {"field": "lo", "type": "quantitative", "axis": null}}},
{"data": {"name": "pts"}, "transform": [{"filter": "datum.p==='d'"}],
 "mark": {"type": "tick", "orient": "horizontal", "size": 9, "thickness": 1.5, "color": "black", "opacity": 1},
 "encoding": {"x": {"field": "t", "type": "quantitative", "axis": null}, "y": {"field": "hi", "type": "quantitative", "axis": null}}},
{"data": {"name": "pts"}, "transform": [{"filter": "datum.p==='d'"}],
 "mark": {"type": "point", "filled": true, "opacity": 1, "stroke": "black", "strokeWidth": 1.3},
 "encoding": {
  "x": {"field": "t", "type": "quantitative", "axis": null},
  "y": {"field": "v", "type": "quantitative", "axis": null},
  "shape": {"field": "g", "type": "nominal", "scale": {"domain": ["EA", "Isch", "base"], "range": ["triangle-up", "circle", "circle"]}, "legend": null},
  "fill": {"condition": {"test": "datum.g === 'Isch'", "value": "white"}, "value": "black"},
  "size": {"condition": {"test": "datum.g === 'EA'", "value": 70}, "value": 45}}},
{"data": {"name": "pts"}, "transform": [{"filter": "false"}],
 "mark": {"type": "point", "filled": true, "color": "black", "opacity": 1, "stroke": "black", "strokeWidth": 1.5, "size": 100},
 "encoding": {
  "x": {"field": "t", "type": "quantitative", "axis": null},
  "y": {"field": "v", "type": "quantitative", "axis": null},
  "shape": {"field": "g", "type": "nominal", "scale": {"domain": ["EA", "Isch"], "range": ["M-1,0H5M2,-1.2L3.1,0.8L0.9,0.8Z", "M-1,0H1M3,0H5M1,0A1,1 0 1,0 3,0A1,1 0 1,0 1,0"]},
   "legend": {"labelExpr": "datum.value === 'EA' ? 'Ischemia + EA (left SP 6 and GB 34) (n = 24)' : 'Ischemia (n = 30)'",
    "encoding": {"symbols": {"fill": {"value": {"expr": "datum.value === 'EA' ? 'black' : 'white'"}}, "stroke": {"value": "black"}, "strokeWidth": {"value": 1.5}, "opacity": {"value": 1}}}}}}},
{"data": {"name": "ann"}, "transform": [{"filter": "datum.p==='d' && datum.k==='arrow'"}],
 "mark": {"type": "rule", "color": "black", "strokeWidth": 1.3},
 "encoding": {"x": {"field": "t", "type": "quantitative", "axis": null}, "y": {"field": "v", "type": "quantitative", "axis": null}, "y2": {"field": "v2"}}},
{"data": {"name": "ann"}, "transform": [{"filter": "datum.p==='d' && datum.k==='arrow'"}],
 "mark": {"type": "point", "shape": "M-1,1L0,0L1,1", "filled": false, "stroke": "black", "strokeWidth": 1.3, "size": 50, "opacity": 1},
 "encoding": {"x": {"field": "t", "type": "quantitative", "axis": null}, "y": {"field": "v2", "type": "quantitative", "axis": null}}},
{"data": {"name": "ann"}, "transform": [{"filter": "datum.p==='d' && (datum.k==='star' || datum.k==='hash' || datum.k==='ea')"}],
 "mark": {"type": "text", "font": "Liberation Serif", "color": "black", "align": "center", "baseline": "middle"},
 "encoding": {"x": {"field": "t", "type": "quantitative", "axis": null}, "y": {"field": "v", "type": "quantitative", "axis": null}, "text": {"field": "txt"},
  "size": {"condition": [{"test": "datum.k==='hash'", "value": 15}, {"test": "datum.k==='ea'", "value": 19}], "value": 17}}},
{"data": {"name": "ann"}, "transform": [{"filter": "datum.p==='d' && (datum.k==='mcao' || datum.k==='rep')"}],
 "mark": {"type": "text", "font": "Liberation Serif", "fontSize": 18, "color": "black", "align": "left", "baseline": "middle"},
 "encoding": {"x": {"field": "t", "type": "quantitative", "axis": null}, "y": {"field": "v", "type": "quantitative", "axis": null}, "text": {"field": "txt"}}},
{"data": {"name": "ann"}, "transform": [{"filter": "datum.p==='d' && datum.k==='inv'"}],
 "mark": {"type": "point", "shape": "triangle-down", "filled": false, "stroke": "black", "strokeWidth": 2.5, "size": 65, "opacity": 1},
 "encoding": {"x": {"field": "t", "type": "quantitative", "axis": null}, "y": {"field": "v", "type": "quantitative", "axis": null}}}
]
}
]
}
